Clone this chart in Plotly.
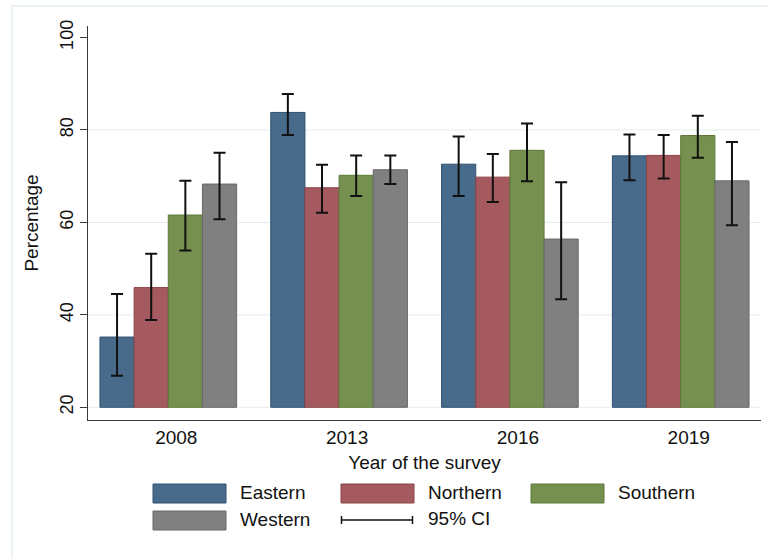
import plotly.graph_objects as go

# Survey years (x categories)
years = ["2008", "2013", "2016", "2019"]

# Percentage by region, with 95% confidence limits
eastern = [35.2, 83.8, 72.6, 74.4]
eastern_lo = [26.8, 78.9, 65.7, 69.1]
eastern_hi = [44.5, 87.8, 78.6, 79.0]

northern = [45.9, 67.5, 69.8, 74.5]
northern_lo = [38.9, 62.1, 64.4, 69.5]
northern_hi = [53.2, 72.5, 74.8, 78.9]

southern = [61.6, 70.2, 75.6, 78.8]
southern_lo = [53.9, 65.7, 68.9, 74.0]
southern_hi = [69.0, 74.5, 81.4, 83.1]

western = [68.3, 71.4, 56.4, 69.0]
western_lo = [60.7, 68.3, 43.4, 59.4]
western_hi = [75.1, 74.5, 68.7, 77.4]

y_ticks = [20, 40, 60, 80, 100]
bar_base = 20

FONT = "Liberation Sans, Arial, sans-serif"

series = [
    ("Eastern", eastern, eastern_lo, eastern_hi, "#486a8b", "#2e5272"),
    ("Northern", northern, northern_lo, northern_hi, "#a55a5f", "#8a4248"),
    ("Southern", southern, southern_lo, southern_hi, "#76904f", "#5c7838"),
    ("Western", western, western_lo, western_hi, "#808080", "#686868"),
]

fig = go.Figure()
for name, vals, lo, hi, fill, edge in series:
    fig.add_trace(go.Bar(
        name=name,
        x=years,
        y=[v - bar_base for v in vals],
        base=bar_base,
        marker=dict(color=fill, line=dict(color=edge, width=1)),
        error_y=dict(
            type="data",
            array=[h - v for h, v in zip(hi, vals)],
            arrayminus=[v - l for v, l in zip(vals, lo)],
            color="#111111",
            thickness=2,
            width=6,
        ),
        showlegend=False,
    ))

# Light horizontal grid lines (none at the top tick)
shapes = []
for t in y_ticks[:-1]:
    shapes.append(dict(type="line", xref="paper", yref="y", x0=0, x1=1, y0=t, y1=t,
                       line=dict(color="#e3eced", width=1), layer="below"))

# Outer graph-region frame
shapes.append(dict(type="rect", xref="paper", yref="paper",
                   x0=-0.1129, x1=1.2, y0=-0.6, y1=1.0508,
                   line=dict(color="#e4eef0", width=1.5), layer="below"))

# Legend drawn by hand: swatches, CI symbol and labels
W, H = 673.0, 394.0
def px(x):
    return (x - 88) / W
def py(y):
    return (420 - y) / H

legend_rows = [
    ("Eastern", series[0][4], series[0][5], 153, 484),
    ("Northern", series[1][4], series[1][5], 341, 484),
    ("Southern", series[2][4], series[2][5], 531, 484),
    ("Western", series[3][4], series[3][5], 153, 511),
]
annotations = []
for label, fill, edge, x0, y0 in legend_rows:
    shapes.append(dict(type="rect", xref="paper", yref="paper",
                       x0=px(x0), x1=px(x0 + 73), y0=py(y0 + 19), y1=py(y0),
                       fillcolor=fill, line=dict(color=edge, width=1)))
    annotations.append(dict(xref="paper", yref="paper", x=px(x0 + 85), y=py(y0 + 8),
                            text=label, showarrow=False, xanchor="left", yanchor="middle",
                            font=dict(family=FONT, size=19, color="#111111")))

# 95% CI legend symbol
ci_y = 520
shapes.append(dict(type="line", xref="paper", yref="paper",
                   x0=px(341), x1=px(413), y0=py(ci_y), y1=py(ci_y),
                   line=dict(color="#111111", width=1.5)))
for cx in (341.5, 412.5):
    shapes.append(dict(type="line", xref="paper", yref="paper",
                       x0=px(cx), x1=px(cx), y0=py(ci_y - 4), y1=py(ci_y + 4),
                       line=dict(color="#111111", width=1.5)))
annotations.append(dict(xref="paper", yref="paper", x=px(426), y=py(ci_y - 2),
                        text="95% CI", showarrow=False, xanchor="left", yanchor="middle",
                        font=dict(family=FONT, size=19, color="#111111")))

fig.update_layout(
    width=767, height=559,
    margin=dict(l=88, r=6, t=26, b=139, autoexpand=False),
    paper_bgcolor="white",
    plot_bgcolor="white",
    barmode="group",
    bargap=0.2,
    bargroupgap=0,
    font=dict(family=FONT, color="#111111"),
    shapes=shapes,
    annotations=annotations,
    xaxis=dict(
        type="category",
        range=[-0.47, 3.47],
        showline=True, linecolor="#3a3a3a", linewidth=1.3,
        ticks="", showgrid=False,
        tickfont=dict(size=19, family=FONT),
        ticklabelshift=8,
        title=dict(text="Year of the survey", font=dict(size=19, family=FONT), standoff=8),
    ),
    yaxis=dict(
        range=[17.25, 102.5],
        tickvals=y_ticks,
        tickangle=-90,
        ticks="outside", ticklen=7, tickcolor="#3a3a3a", tickwidth=1.2,
        showline=True, linecolor="#3a3a3a", linewidth=1.3,
        showgrid=False, zeroline=False,
        tickfont=dict(size=18, family=FONT),
        title=dict(text="Percentage", font=dict(size=19, family=FONT), standoff=13),
    ),
)

fig.write_html("out.html")
